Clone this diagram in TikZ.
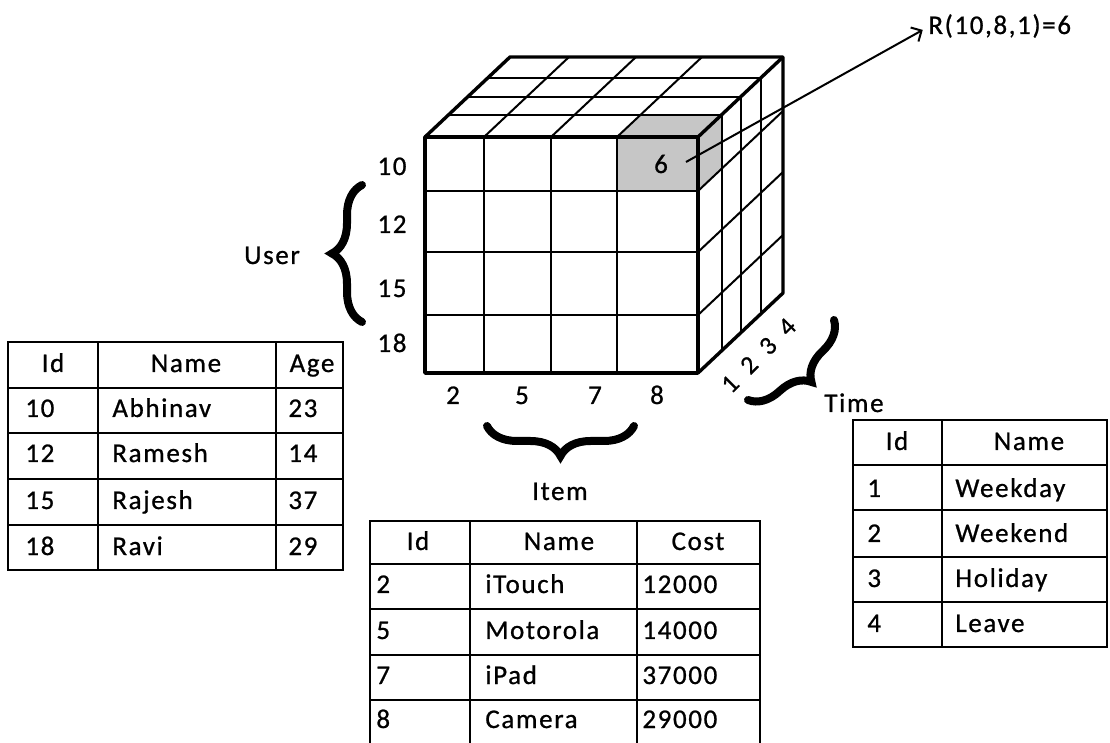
\documentclass[tikz,border=0pt]{standalone}
\usepackage{fontspec}
\setmainfont{Carlito}[LetterSpace=6, FakeBold=0.8]
\usetikzlibrary{decorations.pathreplacing, arrows.meta}

\tikzset{
  celda/.style={line width=1pt},
  borde/.style={line width=1.7pt, line join=round},
  sombra/.style={fill=gray!45},
  llave/.style={decorate, decoration={brace, amplitude=15pt}, line width=4pt, line cap=round},
  texto/.style={font=\fontsize{13.5}{16}\selectfont, inner sep=0pt},
  etiq/.style={texto, text height=9.5pt, text depth=2.5pt},
  tabla/.style={line width=1pt},
}

\begin{document}
\begin{tikzpicture}[x=0.5pt,y=-0.5pt]
        \useasboundingbox (0,0) rectangle (1110,743);

        % Celda sombreada
        \fill[sombra] (617,137) rectangle (698,191);
        \fill[sombra] (617,137) -- (698,137) -- ++(23.8,-22.4) -- ++(-81,0) -- cycle;
        \fill[sombra] (698,137) -- ++(23.8,-22.4) -- ++(0,54) -- (698,191) -- cycle;

        % Cara frontal
        \foreach \x in {484,551,617}
            \draw[celda] (\x,137) -- (\x,373);
        \foreach \y in {191,252,315}
            \draw[celda] (425,\y) -- (698,\y);

        % Cara superior
        \foreach \f in {0.28,0.5,0.74}
            \draw[celda] ({425+85*\f},{137-80*\f}) -- ++(273,0);
        \foreach \x in {484,551,617}
            \draw[celda] (\x,137) -- ++(85,-80);

        % Cara lateral
        \foreach \f in {0.28,0.5,0.74}
            \draw[celda] ({698+85*\f},{137-80*\f}) -- ++(0,236);
        \foreach \y in {191,252,315}
            \draw[celda] (698,\y) -- ++(85,-80);

        % Contorno del cubo
        \draw[borde] (425,137) rectangle (698,373);
        \draw[borde] (425,137) -- ++(85,-80) -- ++(273,0) -- ++(0,236) -- (698,373);
        \draw[borde] (698,137) -- ++(85,-80);

        % Valor R(10,8,1)
        \node[etiq] (seis) at (661,166) {6};
        \coordinate (celda) at (686,162);
        \node[etiq, anchor=west] (valor) at (928,27) {R(10,8,1)=6};
        \draw[-{Straight Barb[length=4pt,width=8pt]}, line width=1pt, shorten >=3pt] (celda) -- (valor.west);

        % Eje de usuarios
        \foreach \v/\y in {10/168,12/226,15/290,18/345}
            \node[etiq] (u\v) at (392,\y) {\v};
        \draw[llave] (362,322) -- (362,185);
        \node[etiq] (user) at (272,257) {User};

        % Eje de items
        \foreach \v/\x in {2/453,5/522,7/595,8/657}
            \node[etiq] (i\v) at (\x,397) {\v};
        \draw[llave] (634,426) -- (487,426);
        \node[etiq] (item) at (560,493) {Item};

        % Eje de tiempo
        \foreach \v/\x/\y in {1/730/384,2/749/365,3/768/346,4/787/327}
            \node[texto, font=\fontsize{13}{15}\selectfont, rotate=45] (t\v) at (\x,\y) {\v};
        \draw[llave] (834,320) -- (748,400);
        \node[etiq] (time) at (854,405) {Time};

        % Tabla de usuarios
        \draw[tabla] (8,342) rectangle (343,570);
        \foreach \y in {388,433,479,525}
            \draw[tabla] (8,\y) -- (343,\y);
        \foreach \x in {98,276}
            \draw[tabla] (\x,342) -- (\x,570);
        \node[etiq] (uid) at (53,365) {Id};
        \node[etiq] (uname) at (186,365) {Name};
        \node[etiq] (uage) at (312,365) {Age};
        \foreach \i/\n/\a/\y in {10/Abhinav/23/410,12/Ramesh/14/455,15/Rajesh/37/502,18/Ravi/29/548} {
            \node[etiq, anchor=west] (uid\i) at (25,\y) {\i};
            \node[etiq, anchor=west] (uname\i) at (112,\y) {\n};
            \node[etiq, anchor=west] (uage\i) at (288,\y) {\a};
        }

        % Tabla de items
        \draw[tabla] (370,748) -- (370,521) -- (760,521) -- (760,748);
        \foreach \y in {564,609,655,700}
            \draw[tabla] (370,\y) -- (760,\y);
        \foreach \x in {470,637}
            \draw[tabla] (\x,521) -- (\x,748);
        \node[etiq] (iid) at (418,543) {Id};
        \node[etiq] (iname) at (559,543) {Name};
        \node[etiq] (icost) at (698,543) {Cost};
        \foreach \i/\n/\c/\y in {2/iTouch/12000/586,5/Motorola/14000/632,7/iPad/37000/677,8/Camera/29000/721} {
            \node[etiq, anchor=west] (iid\i) at (376,\y) {\i};
            \node[etiq, anchor=west] (iname\i) at (485,\y) {\n};
            \node[etiq, anchor=west] (icost\i) at (642,\y) {\c};
        }

        % Tabla de tiempo
        \draw[tabla] (853,420) rectangle (1107,647);
        \foreach \y in {465,510,557,602}
            \draw[tabla] (853,\y) -- (1107,\y);
        \draw[tabla] (942,420) -- (942,647);
        \node[etiq] (tid) at (897,443) {Id};
        \node[etiq] (tname) at (1029,443) {Name};
        \foreach \i/\n/\y in {1/Weekday/490,2/Weekend/535,3/Holiday/580,4/Leave/625} {
            \node[etiq, anchor=west] (tid\i) at (867,\y) {\i};
            \node[etiq, anchor=west] (tname\i) at (955,\y) {\n};
        }

    \end{tikzpicture}
\end{document}
